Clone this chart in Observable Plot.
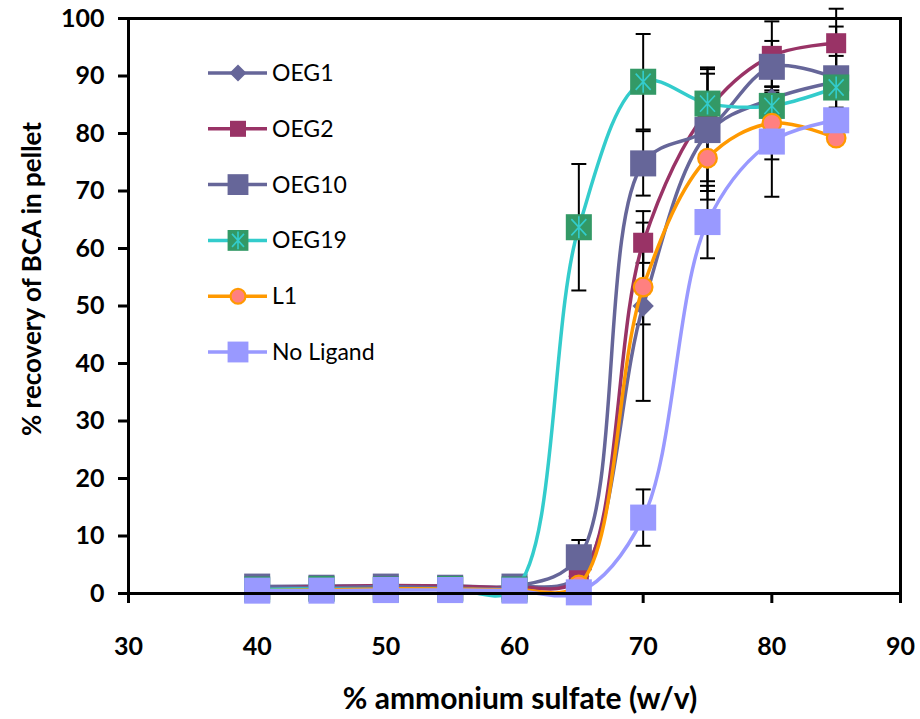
<!DOCTYPE html>
<html><head><meta charset="utf-8">
<script src="https://cdn.jsdelivr.net/npm/d3@7"></script>
<script src="https://cdn.jsdelivr.net/npm/@observablehq/plot@0.6"></script>
<style>
  body { margin: 0; background: #fff; }
  #chart { position: relative; width: 920px; height: 719px; }
</style>
</head><body><div id="chart"></div>
<script>
// ---- data ----
const concentrations = [40, 45, 50, 55, 60, 65, 70, 75, 80, 85];
const seriesNames = ["OEG1", "OEG2", "OEG10", "OEG19", "L1", "No Ligand"];

const oeg1      = [1.2, 1.3, 1.3, 1.3, 1.2, 3.0, 50.0, 80.0, 86.0, 89.0];
const oeg2      = [1.0, 1.2, 1.4, 1.3, 1.1, 2.5, 61.0, 84.0, 93.5, 95.7];
const oeg10     = [1.2, 1.0, 1.2, 1.0, 1.2, 6.3, 74.8, 80.6, 91.6, 89.6];
const oeg19     = [0.7, 0.8, 0.7, 0.8, 0.7, 63.7, 89.0, 85.2, 84.8, 88.0];
const l1        = [0.5, 0.6, 0.8, 0.8, 0.7, 1.5, 53.3, 75.7, 81.8, 79.2];
const noLigand  = [0.5, 0.5, 0.6, 0.6, 0.5, 0.2, 13.2, 64.6, 78.6, 82.3];

const oeg1Err     = [0, 0, 0, 0, 0, 0, 16.5, 11.5, 0, 4.5];
const oeg2Err     = [0, 0, 0, 0, 0, 0, 3.5, 0, 6.0, 6.0];
const oeg10Err    = [0, 0, 0, 0, 0, 3.0, 5.6, 10.6, 4.5, 9.0];
const oeg19Err    = [0, 0, 0, 0, 0, 11.0, 8.3, 5.2, 0.5, 0];
const l1Err       = [0, 0, 0, 0, 0, 0, 6.5, 4.0, 6.3, 0.9];
const noLigandErr = [0, 0, 0, 0, 0, 0, 4.9, 6.3, 9.6, 0];

const xTicks = [30, 40, 50, 60, 70, 80, 90];
const yTicks = [0, 10, 20, 30, 40, 50, 60, 70, 80, 90, 100];
const xTitle = "% ammonium sulfate (w/v)";
const yTitle = "% recovery of BCA in pellet";

// ---- build table ----
const values = [oeg1, oeg2, oeg10, oeg19, l1, noLigand];
const errors = [oeg1Err, oeg2Err, oeg10Err, oeg19Err, l1Err, noLigandErr];
const rows = [];
seriesNames.forEach((s, i) => concentrations.forEach((c, j) =>
  rows.push({series: s, x: c, y: values[i][j], err: errors[i][j]})));

// ---- styles ----
const capSymbol = {draw(ctx, size) { const w = Math.sqrt(size / Math.PI); ctx.moveTo(-w, 0); ctx.lineTo(w, 0); }};
const starSymbol = {draw(ctx, size) {
  const a = Math.sqrt(size / Math.PI), d = a * 0.68, e = a * 0.74;
  ctx.moveTo(0, -a); ctx.lineTo(0, a);
  ctx.moveTo(-d, -e); ctx.lineTo(d, e);
  ctx.moveTo(-d, e); ctx.lineTo(d, -e);
}};
const styles = {
  "OEG1":      {line: "#666699", marks: [{symbol: "diamond2", r: 9.6, fill: "#666699"}]},
  "OEG2":      {line: "#993366", marks: [{symbol: "square", r: 11.3, fill: "#993366"}]},
  "OEG10":     {line: "#666699", marks: [{symbol: "square", r: 14.7, fill: "#666699"}]},
  "OEG19":     {line: "#33CCCC", marks: [{symbol: "square", r: 14.7, fill: "#339966"},
                                         {symbol: starSymbol, r: 11, fill: "none", stroke: "#33CCCC", strokeWidth: 1.6}]},
  "L1":        {line: "#FF9900", marks: [{symbol: "circle", r: 9.3, fill: "#FF8080", stroke: "#FF9900", strokeWidth: 2.2}]},
  "No Ligand": {line: "#9999FF", marks: [{symbol: "square", r: 14.7, fill: "#9999FF"}]}
};

const errRows = rows.filter(d => d.err > 0);
const capRows = errRows.flatMap(d => [{x: d.x, y: d.y + d.err}, {x: d.x, y: d.y - d.err}]);

const marks = [
  Plot.ruleX(errRows, {x: "x", y1: d => d.y - d.err, y2: d => d.y + d.err, stroke: "black", strokeWidth: 2}),
  Plot.dot(capRows, {x: "x", y: "y", symbol: capSymbol, r: 7.5, stroke: "black", strokeWidth: 2, fill: "none"})
];
for (const s of seriesNames) {
  const data = rows.filter(d => d.series === s);
  marks.push(Plot.line(data, {x: "x", y: "y", curve: "catmull-rom", stroke: styles[s].line, strokeWidth: 3.5}));
  for (const m of styles[s].marks) {
    marks.push(Plot.dot(data, {x: "x", y: "y", symbol: m.symbol, r: m.r, fill: m.fill,
      stroke: m.stroke || "none", strokeWidth: m.strokeWidth || 0}));
  }
}

const plot = Plot.plot({
  width: 920, height: 719,
  marginLeft: 128, marginRight: 20, marginTop: 18, marginBottom: 126,
  style: {fontFamily: "Lato, sans-serif", fontSize: "25px", fontWeight: "bold", color: "black", background: "white", overflow: "visible"},
  x: {domain: [30, 90]},
  y: {domain: [0, 100]},
  marks: [
    Plot.axisX({ticks: xTicks, tickSize: 10, tickPadding: 34, label: null, strokeWidth: 3, tickFormat: d => String(d)}),
    Plot.axisY({ticks: yTicks, tickSize: 10, tickPadding: 14, label: null, strokeWidth: 3, tickFormat: d => String(d)}),
    ...marks,
    Plot.frame({stroke: "black", strokeWidth: 3})
  ]
});

const svg = d3.select(plot);
svg.append("text").attr("x", 520).attr("y", 709).attr("text-anchor", "middle")
  .attr("font-size", 30).attr("font-weight", "bold").attr("fill", "black").text(xTitle);
svg.append("text").attr("transform", "translate(41,279) rotate(-90)").attr("text-anchor", "middle")
  .attr("font-size", 26).attr("font-weight", "bold").attr("fill", "black").text(yTitle);

// ---- legend (inside plot area, upper left) ----
const lg = svg.append("g").attr("font-size", 23).attr("font-weight", "normal").attr("text-anchor", "start");
seriesNames.forEach((s, i) => {
  const y = 73 + i * 55.8;
  const g = lg.append("g").attr("transform", `translate(0,${y})`);
  g.append("line").attr("x1", 208).attr("x2", 267).attr("y1", 0).attr("y2", 0)
    .attr("stroke", styles[s].line).attr("stroke-width", 3.5);
  for (const m of styles[s].marks) {
    const symType = typeof m.symbol === "string"
      ? {diamond2: d3.symbolDiamond2, square: d3.symbolSquare, circle: d3.symbolCircle}[m.symbol]
      : m.symbol;
    const rr = m.r * 0.8;
    g.append("path").attr("transform", "translate(238,0)")
      .attr("d", d3.symbol(symType, Math.PI * rr * rr)())
      .attr("fill", m.fill).attr("stroke", m.stroke || "none").attr("stroke-width", m.strokeWidth || 0);
  }
  g.append("text").attr("x", 272).attr("y", 0).attr("dy", "0.35em").attr("text-anchor", "start")
    .attr("fill", "black").text(s);
});

document.getElementById("chart").appendChild(plot);
</script>
</body></html>
